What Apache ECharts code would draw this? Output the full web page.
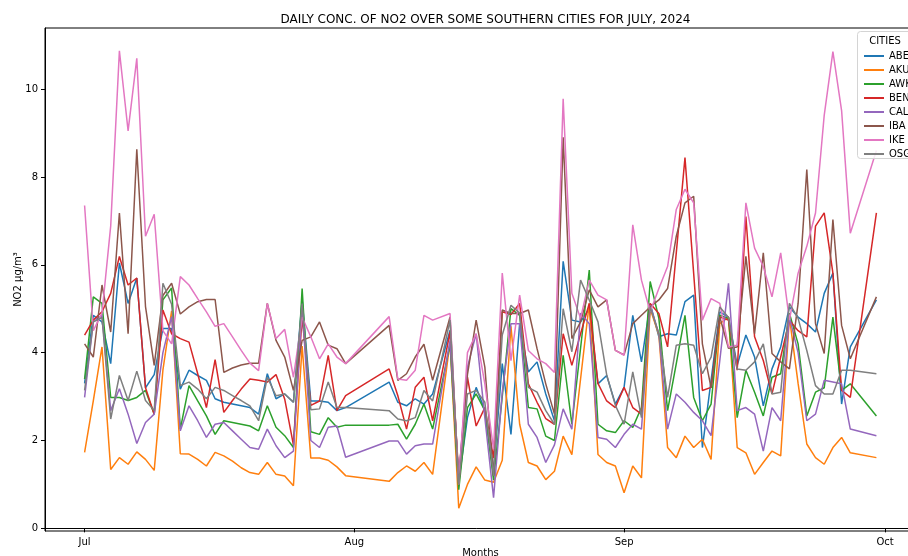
<!DOCTYPE html>
<html><head><meta charset="utf-8">
<script src="https://cdn.jsdelivr.net/npm/echarts@6/dist/echarts.min.js"></script>
<style>html,body{margin:0;padding:0;background:#fff}#c{width:908px;height:556px}</style>
</head><body><div id="c"></div>
<script>
const dates = [
'2024-07-01','2024-07-02','2024-07-03','2024-07-04','2024-07-05','2024-07-06','2024-07-07','2024-07-08','2024-07-09','2024-07-10','2024-07-11',
'2024-07-12','2024-07-13','2024-07-14','2024-07-15','2024-07-16','2024-07-17','2024-07-18','2024-07-19','2024-07-20','2024-07-21',
'2024-07-22','2024-07-23','2024-07-24','2024-07-25','2024-07-26','2024-07-27','2024-07-28','2024-07-29','2024-07-30','2024-07-31',
'2024-08-05','2024-08-06','2024-08-07','2024-08-08','2024-08-09','2024-08-10',
'2024-08-12','2024-08-13','2024-08-14','2024-08-15','2024-08-16','2024-08-17','2024-08-18','2024-08-19','2024-08-20','2024-08-21',
'2024-08-22','2024-08-23','2024-08-24','2024-08-25','2024-08-26','2024-08-27','2024-08-28','2024-08-29','2024-08-30','2024-08-31',
'2024-09-01','2024-09-02','2024-09-03','2024-09-04','2024-09-05','2024-09-06','2024-09-07','2024-09-08','2024-09-09','2024-09-10',
'2024-09-11','2024-09-12','2024-09-13','2024-09-14','2024-09-15','2024-09-16','2024-09-17','2024-09-18','2024-09-19','2024-09-20',
'2024-09-21','2024-09-22','2024-09-23','2024-09-24','2024-09-25','2024-09-26','2024-09-27',
'2024-09-30'];
const cities = ['ABE','AKU','AWK','BEN','CAL','IBA','IKE','OSG'];
const ABE = [3.3,4.85,4.7,3.75,6.04,5.12,5.7,3.2,3.5,4.55,4.55,
3.17,3.6,3.48,3.37,2.95,2.87,2.83,2.79,2.75,2.6,
3.52,2.95,3.06,2.87,5.2,2.9,2.9,2.87,2.68,2.75,
3.33,2.87,2.79,2.95,2.83,3.06,
4.51,1.07,2.52,3.21,2.68,1.3,3.75,2.14,4.66,3.56,
3.79,3.06,2.45,6.08,4.74,4.7,5.0,3.29,3.48,2.83,
3.21,4.85,3.79,5.12,4.36,4.43,4.4,5.16,5.31,1.84,
3.37,4.93,4.81,3.71,4.4,3.9,2.79,3.63,4.13,5.04,
4.81,4.66,4.47,5.35,5.81,2.83,4.13,
5.2];
const AKU = [1.73,2.9,4.13,1.34,1.61,1.46,1.74,1.57,1.32,3.6,4.95,
1.7,1.69,1.57,1.42,1.73,1.65,1.53,1.38,1.27,1.23,
1.5,1.23,1.19,0.97,4.15,1.6,1.6,1.55,1.4,1.2,
1.07,1.27,1.42,1.3,1.5,1.23,
4.24,0.46,1.0,1.4,1.1,1.05,1.55,4.6,2.37,1.5,
1.42,1.11,1.3,2.1,1.68,3.4,5.12,1.68,1.5,1.42,
0.81,1.42,1.15,5.0,4.4,1.84,1.61,2.1,1.84,2.03,
1.57,4.66,4.81,1.84,1.72,1.23,1.5,1.76,1.65,4.81,
3.3,1.92,1.61,1.46,1.84,2.07,1.72,
1.61];
const AWK = [3.4,5.27,5.12,2.98,2.98,2.91,2.98,3.14,2.6,5.2,5.47,
2.26,3.25,2.9,2.56,2.14,2.45,2.41,2.37,2.33,2.22,
2.79,2.3,2.11,1.84,5.46,2.2,2.14,2.52,2.3,2.35,
2.35,2.37,2.03,2.37,2.83,2.26,
4.2,0.88,2.75,3.06,2.68,1.1,3.0,5.0,4.85,2.75,
2.72,2.1,2.0,3.94,2.37,4.1,5.88,2.37,2.22,2.18,
2.45,2.3,2.75,5.62,4.78,2.68,3.75,4.85,2.98,2.45,
2.83,4.85,4.78,2.52,3.6,3.1,2.56,3.44,3.52,4.9,
4.2,2.56,3.1,3.2,4.81,3.14,3.29,
2.56];
const BEN = [4.4,4.74,4.93,5.35,6.19,5.54,5.7,3.2,2.6,4.97,4.43,
4.32,4.24,3.52,2.75,3.84,2.64,2.91,3.17,3.4,3.37,
3.33,3.5,2.94,1.9,4.81,2.8,2.9,3.94,2.68,3.02,
3.63,3.02,2.26,3.21,3.44,2.45,
4.47,1.19,3.44,2.33,2.75,1.6,4.93,4.87,5.12,3.29,
2.87,2.5,2.37,4.43,3.71,4.43,5.12,3.3,2.9,2.75,
3.21,2.75,2.6,5.12,4.89,4.13,6.27,8.44,5.8,3.14,
3.21,4.81,4.74,3.6,7.1,4.36,3.82,3.06,3.9,4.74,
4.5,4.36,6.88,7.18,5.81,3.14,2.98,
7.18];
const CAL = [2.98,4.7,4.85,2.68,3.18,2.6,1.93,2.41,2.6,4.0,4.82,
2.22,2.79,2.45,2.07,2.37,2.41,2.22,2.03,1.84,1.8,
2.26,1.88,1.61,1.76,5.04,2.0,1.84,2.3,2.33,1.62,
1.99,1.99,1.69,1.88,1.92,1.92,
4.28,1.15,3.67,4.43,2.52,0.7,3.1,4.66,4.66,2.37,
2.07,1.5,1.9,2.72,2.26,4.9,4.66,2.07,2.03,1.84,
2.14,2.37,2.26,5.08,4.43,2.26,3.06,2.87,2.64,2.45,
2.11,3.82,5.58,2.68,2.75,2.6,1.76,2.75,2.45,4.81,
4.0,2.45,2.6,3.37,3.33,3.29,2.26,
2.11];
const IBA = [4.2,3.9,5.54,4.47,7.18,4.43,8.63,5.05,3.71,5.3,5.58,
4.88,5.04,5.16,5.21,5.21,3.55,3.65,3.72,3.76,3.76,
5.12,4.28,3.9,3.14,4.28,4.36,4.7,4.17,4.09,3.75,
4.62,3.37,3.52,3.9,4.19,3.37,
4.81,1.0,3.5,4.74,3.67,1.2,4.97,4.89,4.89,4.97,
4.09,3.29,2.6,8.9,4.32,4.7,5.43,5.04,5.2,4.05,
3.95,4.66,4.85,5.04,5.2,5.46,6.65,7.41,7.56,4.2,
3.2,4.81,4.1,4.13,6.19,4.43,6.27,3.98,3.79,3.63,
5.12,8.17,4.66,3.98,7.03,4.62,3.86,
5.27];
const IKE = [7.35,4.5,4.9,6.88,10.87,9.05,10.7,6.65,7.15,4.5,4.2,
5.73,5.54,5.23,4.93,4.6,4.66,4.36,4.05,3.76,3.59,
5.12,4.32,4.53,3.44,4.81,4.36,3.86,4.2,3.9,3.75,
4.82,3.4,3.37,3.6,4.85,4.74,
4.89,1.0,4.0,4.43,3.29,1.8,5.81,3.82,5.31,4.05,
3.86,3.75,3.55,9.78,5.35,4.78,5.65,5.31,5.2,4.05,
3.94,6.91,5.65,4.93,5.46,5.96,7.26,7.72,7.41,4.74,
5.23,5.12,4.13,4.17,7.41,6.38,5.96,5.27,6.27,4.74,
5.81,6.42,7.18,9.4,10.85,9.51,6.72,
8.6];
const OSG = [3.14,4.7,4.8,2.49,3.48,2.91,3.58,2.91,2.68,5.58,5.1,
3.25,3.33,3.17,2.95,3.21,3.14,3.02,2.91,2.79,2.45,
3.44,3.02,3.06,2.87,5.12,2.7,2.72,3.33,2.75,2.75,
2.68,2.49,2.45,2.52,3.14,2.9,
4.74,1.0,3.06,3.14,2.87,1.2,4.4,5.08,4.9,3.21,
3.1,2.68,2.37,5.0,4.02,5.65,5.2,4.7,3.5,2.8,
2.37,3.56,2.52,5.04,4.43,2.98,4.17,4.2,4.17,3.52,
3.9,5.04,4.8,3.63,3.6,3.79,4.2,3.06,3.1,5.12,
4.78,4.05,3.25,3.06,3.06,3.6,3.6,
3.52];
const yTicks = [0,2,4,6,8,10];
const monthTicks = ['2024-07-01','2024-08-01','2024-09-01','2024-10-01'];
const monthLabels = ['Jul','Aug','Sep','Oct'];
const colors = ['#1f77b4','#ff7f0e','#2ca02c','#d62728','#9467bd','#8c564b','#e377c2','#7f7f7f'];

function ts(s){const p=s.split('-').map(Number);return Date.UTC(p[0],p[1]-1,p[2]);}
const DAY = 86400000;
const seriesVals = [ABE,AKU,AWK,BEN,CAL,IBA,IKE,OSG];
const monthTs = monthTicks.map(ts);
const xMin = ts(dates[0]) - 4.55*DAY;
const xMax = ts(dates[dates.length-1]) + 4.55*DAY;
const FONT = 'DejaVu Sans';

const chart = echarts.init(document.getElementById('c'), null, {renderer:'canvas'});
chart.setOption({
  animation:false,
  backgroundColor:'#fff',
  textStyle:{fontFamily:FONT},
  title:{text:'DAILY CONC. OF NO2 OVER SOME SOUTHERN CITIES FOR JULY, 2024',left:480.5,top:9,textAlign:'center',
    textStyle:{fontFamily:FONT,fontSize:12,fontWeight:'normal',color:'#000'}},
  grid:{left:45,top:28,width:871,height:503,show:true,borderColor:'#000',borderWidth:1,backgroundColor:'transparent',
    outerBoundsMode:'none',containLabel:false},
  xAxis:{type:'value',min:xMin,max:xMax,
    name:'Months',nameLocation:'middle',nameGap:17,nameMoveOverlap:false,nameTextStyle:{fontFamily:FONT,fontSize:10,color:'#000'},
    axisLine:{show:true,lineStyle:{color:'#000',width:1}},
    axisTick:{show:true,length:4,lineStyle:{color:'#000'},customValues:monthTs},
    axisLabel:{customValues:monthTs,margin:6,fontSize:10,color:'#000',fontFamily:FONT,
      formatter:function(v){let best=0;for(let i=0;i<monthTs.length;i++){if(Math.abs(monthTs[i]-v)<Math.abs(monthTs[best]-v))best=i;}return monthLabels[best];}},
    splitLine:{show:false}},
  yAxis:{type:'value',min:-0.06,max:11.39,
    name:'NO2 µg/m³',nameLocation:'middle',nameGap:22,nameMoveOverlap:false,nameRotate:90,nameTextStyle:{fontFamily:FONT,fontSize:10,color:'#000'},
    axisLine:{show:true,lineStyle:{color:'#000',width:1}},
    axisTick:{show:true,length:4,lineStyle:{color:'#000'},customValues:yTicks},
    axisLabel:{customValues:yTicks,margin:7,fontSize:10,color:'#000',fontFamily:FONT,formatter:function(v){return String(v);}},
    splitLine:{show:false}},
  legend:{data:cities,orient:'vertical',left:859,top:45,itemWidth:20,itemHeight:2,itemGap:2,icon:'rect',z:120,
    textStyle:{fontFamily:FONT,fontSize:10,color:'#000',lineHeight:12}},
  graphic:[
    {type:'rect',z:100,shape:{x:857.5,y:31.5,width:70,height:127,r:3},style:{fill:'rgba(255,255,255,0.85)',stroke:'#d4d4d4',lineWidth:1}},
    {type:'text',z:120,x:885,y:41,style:{text:'CITIES',font:'10px "DejaVu Sans"',fill:'#000',align:'center',verticalAlign:'middle'}}
  ],
  series:cities.map((c,k)=>({name:c,type:'line',showSymbol:false,symbol:'none',
    lineStyle:{width:1.5,color:colors[k]},itemStyle:{color:colors[k]},
    data:dates.map((d,i)=>[ts(d),seriesVals[k][i]])}))
});
</script></body></html>
